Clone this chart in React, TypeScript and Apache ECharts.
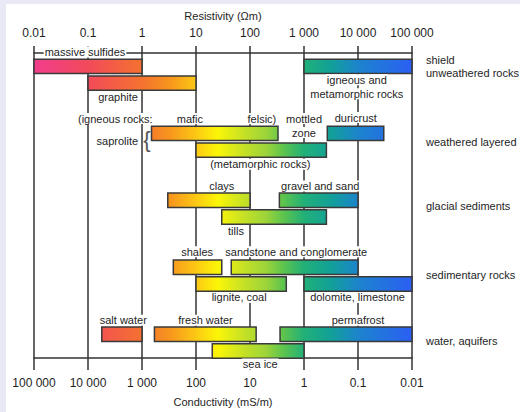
import React, { useEffect, useRef } from "react";
import * as echarts from "echarts";

// Axis tick labels (top: resistivity in Ωm, bottom: conductivity in mS/m)
const resistivityTicks = ["0.01", "0.1", "1", "10", "100", "1 000", "10 000", "100 000"];
const conductivityTicks = ["100 000", "10 000", "1 000", "100", "10", "1", "0.1", "0.01"];

// Materials: resistivity range (Ωm), group (band) and lane within band
const materials = [
  "massive sulfides",
  "graphite",
  "igneous and metamorphic rocks",
  "saprolite (igneous)",
  "saprolite (metamorphic)",
  "duricrust",
  "clays",
  "gravel and sand",
  "tills",
  "shales",
  "sandstone and conglomerate",
  "lignite, coal",
  "dolomite, limestone",
  "salt water",
  "fresh water",
  "permafrost",
  "sea ice",
];
const resMin = [0.01, 0.1, 1000, 1.5, 10, 2700, 3, 350, 30, 3.8, 45, 10, 1000, 0.18, 1.7, 360, 20];
const resMax = [1, 10, 100000, 330, 2600, 30000, 100, 10000, 2600, 30, 10000, 470, 100000, 1, 130, 100000, 1000];
const bandOf = [0, 0, 0, 1, 1, 1, 2, 2, 2, 3, 3, 3, 3, 4, 4, 4, 4];
const laneOf = [0, 1, 0, 0, 1, 0, 0, 0, 1, 0, 0, 1, 1, 0, 0, 0, 1];

// Band names (right side)
const bandNames = ["shield\nunweathered rocks", "weathered layered", "glacial sediments", "sedimentary rocks", "water, aquifers"];
const bandNameRow = [0.8, 5.3, 9.15, 13.25, 17.2];

// Annotation texts, anchored at (resistivity Ωm, row)
const noteTexts = [
  "massive sulfides", "graphite", "igneous and", "metamorphic rocks",
  "(igneous rocks:", "mafic", "felsic)", "mottled", "zone", "duricrust",
  "saprolite", "{", "(metamorphic rocks)",
  "clays", "gravel and sand", "tills",
  "shales", "sandstone and conglomerate", "lignite, coal", "dolomite, limestone",
  "salt water", "fresh water", "permafrost", "sea ice",
];
const noteRes = [
  0.088, 0.36, 9500, 9500,
  0.32, 7.7, 166, 1000, 1000, 9100,
  0.35, 1.24, 155,
  30, 2000, 55,
  10.5, 720, 63, 9800,
  0.45, 15, 10000, 155,
];
const noteRow = [
  -0.06, 2.61, 1.6, 2.43,
  3.92, 3.92, 3.92, 3.92, 4.75, 3.86,
  5.28, 5.16, 6.65,
  7.95, 7.95, 10.62,
  11.87, 11.87, 14.6, 14.6,
  15.96, 15.96, 15.96, 18.58,
];

// Colour scale along log10(resistivity)
const colorLog = [-2, -1, 0, 0.5, 1, 1.4, 1.9, 2.3, 2.6, 3, 3.5, 4, 5];
const colorHex = [
  "#f23d8d", "#f24a5a", "#f4722f", "#f7941e", "#fcc814", "#fbf607",
  "#c4e026", "#9cd43a", "#60c54c", "#22b078", "#12a098", "#1c84cc", "#2b5ff5",
];

const FONT = '"Liberation Sans", Arial, Helvetica, sans-serif';
const TEXT = "#1e1e1e";
const LINE = "#333";

function hexToRgb(h: string) {
  const n = parseInt(h.slice(1), 16);
  return [(n >> 16) & 255, (n >> 8) & 255, n & 255];
}
function colorAt(L: number) {
  if (L <= colorLog[0]) return colorHex[0];
  if (L >= colorLog[colorLog.length - 1]) return colorHex[colorHex.length - 1];
  for (let i = 0; i < colorLog.length - 1; i++) {
    if (L >= colorLog[i] && L <= colorLog[i + 1]) {
      const t = (L - colorLog[i]) / (colorLog[i + 1] - colorLog[i]);
      const a = hexToRgb(colorHex[i]);
      const b = hexToRgb(colorHex[i + 1]);
      const c = a.map((v, k) => Math.round(v + (b[k] - v) * t));
      return `rgb(${c[0]},${c[1]},${c[2]})`;
    }
  }
  return colorHex[0];
}
function gradientFor(lo: number, hi: number) {
  const a = Math.log10(lo);
  const b = Math.log10(hi);
  const stops: { offset: number; color: string }[] = [{ offset: 0, color: colorAt(a) }];
  colorLog.forEach((s) => {
    if (s > a && s < b) stops.push({ offset: (s - a) / (b - a), color: colorAt(s) });
  });
  stops.push({ offset: 1, color: colorAt(b) });
  return new echarts.graphic.LinearGradient(0, 0, 1, 0, stops);
}

const tickIndex = (v: number) => Math.round(Math.log10(v)) + 2;

export default function App() {
  const ref = useRef<HTMLDivElement>(null);
  useEffect(() => {
    if (!ref.current) return;
    const chart = echarts.init(ref.current, null, { renderer: "svg" });
    const barData = materials.map((_, i) => [resMin[i], resMax[i], 4 * bandOf[i] + 0.8 + laneOf[i]]);
    const noteData = noteTexts.map((_, i) => [noteRes[i], noteRow[i]]);
    const bandData = bandNames.map((_, i) => [100000, bandNameRow[i]]);
    const axisCommon = {
      type: "log",
      logBase: 10,
      min: 0.01,
      max: 100000,
      splitNumber: 7,
      nameLocation: "middle",
      nameTextStyle: { fontSize: 11, color: TEXT, fontFamily: FONT },
      axisLine: { show: true, lineStyle: { color: LINE, width: 1.5 } },
      minorTick: { show: false },
      minorSplitLine: { show: false },
    };
    chart.setOption({
      animation: false,
      grid: { left: 34, right: 108, top: 53, bottom: 52 },
      xAxis: [
        {
          ...axisCommon,
          position: "top",
          name: "Resistivity (Ωm)",
          nameGap: 32,
          axisTick: { show: true, length: 7, lineStyle: { color: LINE, width: 1.5 } },
          axisLabel: {
            fontSize: 12, color: TEXT, fontFamily: FONT, margin: 14,
            showMinLabel: true, showMaxLabel: true,
            formatter: (v: number) => resistivityTicks[tickIndex(v)] ?? "",
          },
          splitLine: { show: true, lineStyle: { color: LINE, width: 1.5 } },
        },
        {
          ...axisCommon,
          position: "bottom",
          name: "Conductivity (mS/m)",
          nameGap: 38,
          axisTick: { show: true, length: 12, lineStyle: { color: LINE, width: 1.5 } },
          axisLabel: {
            fontSize: 12, color: TEXT, fontFamily: FONT, margin: 19,
            showMinLabel: true, showMaxLabel: true,
            formatter: (v: number) => conductivityTicks[tickIndex(v)] ?? "",
          },
          splitLine: { show: false },
        },
      ],
      yAxis: { type: "value", min: 0, max: 18.22, inverse: true, show: false },
      series: [
        {
          type: "custom",
          name: "ranges",
          xAxisIndex: 0,
          z: 2,
          data: barData,
          encode: { x: [0, 1], y: 2 },
          renderItem: (params: any, api: any) => {
            const lo = api.value(0);
            const hi = api.value(1);
            const y = api.value(2);
            const p1 = api.coord([lo, y - 0.43]);
            const p2 = api.coord([hi, y + 0.43]);
            return {
              type: "rect",
              shape: { x: p1[0], y: p1[1], width: p2[0] - p1[0], height: p2[1] - p1[1] },
              style: { fill: gradientFor(lo, hi), stroke: "#3a3a3a", lineWidth: 1.5 },
            };
          },
        },
        {
          type: "custom",
          name: "notes",
          xAxisIndex: 0,
          z: 3,
          data: noteData,
          encode: { x: 0, y: 1 },
          renderItem: (params: any, api: any) => {
            const p = api.coord([api.value(0), api.value(1)]);
            const t = noteTexts[params.dataIndex];
            const bracket = t === "{";
            return {
              type: "text",
              x: p[0],
              y: p[1],
              style: bracket
                ? { text: t, fill: "#555", fontSize: 22, fontFamily: FONT, fontWeight: 100, align: "center", verticalAlign: "middle" }
                : {
                    text: t, fill: TEXT, fontSize: 11, fontFamily: FONT,
                    align: "center", verticalAlign: "middle",
                    backgroundColor: "#fff", padding: [0, 1],
                  },
            };
          },
        },
        {
          type: "custom",
          name: "bands",
          xAxisIndex: 0,
          z: 3,
          data: bandData,
          encode: { x: 0, y: 1 },
          renderItem: (params: any, api: any) => {
            const p = api.coord([api.value(0), api.value(1)]);
            return {
              type: "text",
              x: p[0] + 14,
              y: p[1],
              style: {
                text: bandNames[params.dataIndex], fill: TEXT, fontSize: 11, fontFamily: FONT,
                align: "left", verticalAlign: "middle", lineHeight: 13,
              },
            };
          },
        },
      ],
    });
    return () => chart.dispose();
  }, []);
  return (
    <div style={{ position: "fixed", left: 0, top: 0, width: 520, height: 412, background: "#e9e9f5" }}>
      <div style={{ position: "absolute", left: 6, top: 4, right: 0, bottom: 0, background: "#fff" }} />
      <div ref={ref} style={{ position: "absolute", left: 0, top: 0, width: 520, height: 412 }} />
    </div>
  );
}
